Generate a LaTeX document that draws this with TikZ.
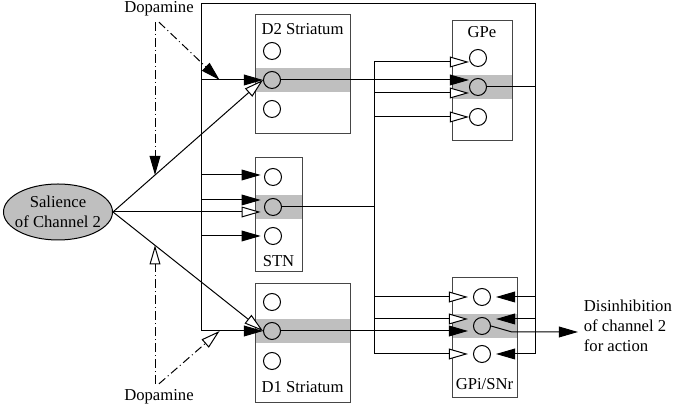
\documentclass[tikz,border=0pt]{standalone}
\usepackage{fontspec}
\setmainfont{Liberation Serif}
\usetikzlibrary{arrows.meta,shapes.geometric,backgrounds,calc}
\definecolor{bandgray}{RGB}{191,191,191}
\definecolor{boxline}{RGB}{70,70,70}
\tikzset{
  nucleus/.style={draw=boxline,line width=0.6pt,inner sep=0pt,minimum width=#1},
  unit/.style={circle,draw,line width=0.6pt,inner sep=0pt,minimum size=10.2pt},
  band/.style={fill=bandgray,inner sep=0pt,minimum height=14pt,minimum width=#1},
  openarr/.style={-{Triangle[fill=white,length=11.5pt,width=6.5pt]},line width=0.6pt},
  fillarr/.style={-{Triangle[length=11.5pt,width=6.5pt]},line width=0.6pt},
  dopa/.style={line width=0.6pt,dash pattern=on 5pt off 2pt on 0.6pt off 2pt},
  wire/.style={line width=0.6pt},
}

\begin{document}
\begin{tikzpicture}[x=0.6pt,y=-0.6pt,font=\normalsize]
    \useasboundingbox (0,0) rectangle (677,414);

    % nuclei
    \node[nucleus=57pt,minimum height=71.4pt,label={[anchor=north,yshift=-2pt]north:D2 Striatum}] (d2) at (302.5,74.5) {};
    \node[nucleus=28.2pt,minimum height=68.4pt,label={[anchor=south]south:STN}] (stn) at (278.5,215) {};
    \node[nucleus=57pt,minimum height=71.4pt,label={[anchor=south,yshift=3pt]south:D1 Striatum}] (d1) at (302.5,343.5) {};
    \node[nucleus=36pt,minimum height=72pt,label={[anchor=north]north:GPe}] (gpe) at (482,81) {};
    \node[nucleus=39pt,minimum height=72pt,label={[anchor=south,yshift=2pt]south:GPi/SNr}] (gpi) at (484.5,338) {};

    % channel units
    \foreach \n/\y in {t/51,m/80,b/109} \node[unit] (d2\n) at (272,\y) {};
    \foreach \n/\y in {t/177,m/207,b/236} \node[unit] (stn\n) at (273,\y) {};
    \foreach \n/\y in {t/302,m/331,b/361} \node[unit] (d1\n) at (272,\y) {};
    \foreach \n/\y in {t/58,m/87,b/117} \node[unit] (gpe\n) at (478,\y) {};
    \foreach \n/\y in {t/297,m/326,b/354} \node[unit] (gpi\n) at (482,\y) {};

    % channel 2 bands
    \begin{scope}[on background layer]
      \node[band=57pt] (d2band) at (d2m -| d2) {};
      \node[band=28.2pt] (stnband) at (stnm -| stn) {};
      \node[band=57pt] (d1band) at (d1m -| d1) {};
      \node[band=36pt] (gpeband) at (gpem -| gpe) {};
      \node[band=39pt] (gpiband) at (gpim -| gpi) {};
    \end{scope}

    % salience input
    \node[ellipse,draw,fill=bandgray,line width=0.6pt,inner xsep=-4pt,inner ysep=0pt,
      minimum width=65.4pt,minimum height=33.6pt,align=center] (sal) at (58,212) {Salience\\of Channel 2};
    \draw[openarr] (sal.east) -- (d2m.west);
    \draw[openarr,shorten >=2pt] (sal.east) -- ($(stnm.west)+(0,5)$);
    \draw[openarr] (sal.east) -- (d1m.west);

    % outer loop
    \coordinate (ltop) at (201,4);
    \coordinate (rtop) at (535,4);
    \coordinate (stnbus) at (374,207);
    \draw[wire] (ltop |- d1m) -- (ltop) -- (rtop) -- (rtop |- gpib);
    \draw[fillarr] (ltop |- d2m) -- (d2m.west);
    \draw[fillarr,shorten >=2pt] ($(stnt.west -| ltop)+(0,-2)$) -- ($(stnt.west)+(0,-2)$);
    \draw[fillarr,shorten >=2pt] ($(stnm.west -| ltop)+(0,-7)$) -- ($(stnm.west)+(0,-7)$);
    \draw[fillarr,shorten >=2pt] (ltop |- stnb) -- (stnb.west);
    \draw[fillarr] (ltop |- d1m) -- (d1m.west);

    % striatum outputs
    \draw[fillarr] (d2m.east) -- (d2m -| gpem.west);
    \draw[fillarr,shorten >=3pt] (d1m.east) -- (d1m -| gpim.west);

    % STN fan-out
    \draw[wire] (stnm.east) -- (stnm -| stnbus);
    \draw[wire] ($(gpet -| stnbus)+(0,4)$) -- (stnbus |- gpib);
    \draw[openarr] ($(gpet.west -| stnbus)+(0,4)$) -- ($(gpet.west)+(0,4)$);
    \draw[openarr] ($(gpem.west -| stnbus)+(0,6)$) -- ($(gpem.west)+(0,6)$);
    \draw[openarr] (stnbus |- gpeb) -- (gpeb.west);
    \draw[openarr,shorten >=3pt] (stnbus |- gpit) -- (gpit.west);
    \draw[openarr,shorten >=3pt] ($(gpim.west -| stnbus)+(0,-7)$) -- ($(gpim.west)+(0,-7)$);
    \draw[openarr,shorten >=3pt] (stnbus |- gpib) -- (gpib.west);

    % GPe output
    \draw[wire] (gpem.east) -- (gpem -| rtop);
    \draw[fillarr,shorten >=3pt] (rtop |- gpit) -- (gpit.east);
    \draw[fillarr,shorten >=3pt] ($(gpim.east -| rtop)+(0,-7)$) -- ($(gpim.east)+(0,-7)$);
    \draw[fillarr,shorten >=3pt] (rtop |- gpib) -- (gpib.east);

    % output
    \node[anchor=west,align=left] (out) at (578,326) {Disinhibition\\of channel 2\\for action};
    \coordinate (kink) at (512,332);
    \draw[fillarr] (gpim.east) -- (kink) -- (kink -| out.west);

    % dopamine
    \node (dtop) at (159,9) {Dopamine};
    \node (dbot) at (159,397) {Dopamine};
    \coordinate (dup) at ($(sal.east)!0.28!(d2m.west)$);
    \coordinate (ddown) at ($(sal.east)!0.28!(d1m.west)$);
    \draw[dopa,fillarr] (dtop.south -| dup) -- (dup);
    \draw[dopa,fillarr] (dtop.south) -- ($(ltop |- d2m)!0.3!(d2m.west)$);
    \draw[dopa,openarr] (dbot.north -| ddown) -- (ddown);
    \draw[dopa,openarr] (dbot.north) -- ($(ltop |- d1m)!0.3!(d1m.west)$);
\end{tikzpicture}
\end{document}
